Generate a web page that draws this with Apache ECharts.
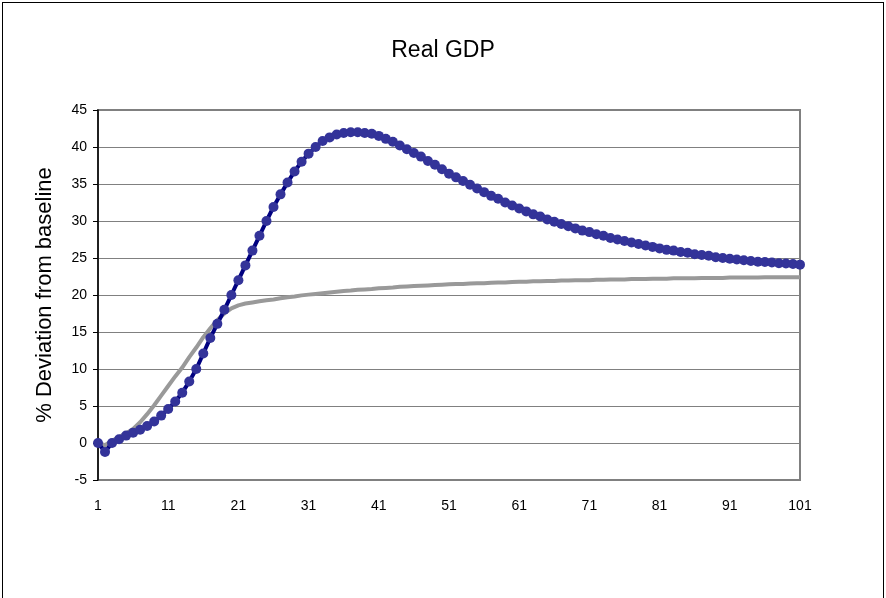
<!DOCTYPE html>
<html>
<head>
<meta charset="utf-8">
<script src="https://cdn.jsdelivr.net/npm/echarts@6/dist/echarts.min.js"></script>
<style>
html,body{margin:0;padding:0;background:#fff;}
#chart{position:absolute;left:0;top:0;width:886px;height:598px;}
#frame{position:absolute;left:2px;top:2px;width:880px;height:610px;border-left:1px solid #000;border-top:1px solid #000;border-right:1px solid #000;pointer-events:none;}
</style>
</head>
<body>
<div id="chart"></div>
<div id="frame"></div>
<script>
const titleText = "Real GDP";
const yAxisName = "% Deviation from baseline";
const categories = [];
for (let i = 1; i <= 101; i++) categories.push(String(i));

const scenarioValues = [
  0, -1.2, 0.0, 0.5, 1.0, 1.4, 1.8, 2.3, 2.9, 3.7,
  4.6, 5.6, 6.8, 8.3, 10.0, 12.1, 14.2, 16.1, 18.0, 20.0,
  22.0, 24.0, 26.0, 28.0, 30.0, 31.9, 33.6, 35.2, 36.7, 38.0,
  39.1, 40.0, 40.8, 41.3, 41.7, 41.9, 42.0, 42.0, 41.9, 41.8,
  41.5, 41.1, 40.7, 40.2, 39.7, 39.2, 38.7, 38.1, 37.6, 37.0,
  36.4, 35.9, 35.4, 34.9, 34.4, 33.9, 33.4, 33.0, 32.5, 32.1,
  31.7, 31.3, 30.9, 30.6, 30.2, 29.9, 29.6, 29.3, 29.0, 28.7,
  28.5, 28.2, 28.0, 27.7, 27.5, 27.3, 27.1, 26.9, 26.7, 26.5,
  26.3, 26.1, 26.0, 25.8, 25.7, 25.5, 25.4, 25.3, 25.1, 25.0,
  24.9, 24.8, 24.7, 24.6, 24.5, 24.45, 24.4, 24.3, 24.25, 24.2,
  24.1
];

const baselineValues = [
  0, -0.3, 0.3, 0.8, 1.3, 1.9, 2.8, 3.9, 5.1, 6.4,
  7.7, 9.0, 10.2, 11.6, 12.9, 14.3, 15.5, 16.6, 17.5, 18.2,
  18.6, 18.85, 19.0, 19.15, 19.3, 19.4, 19.55, 19.7, 19.8, 19.95,
  20.05, 20.15, 20.25, 20.35, 20.45, 20.55, 20.6, 20.7, 20.75, 20.8,
  20.9, 20.95, 21.0, 21.1, 21.15, 21.2, 21.25, 21.3, 21.35, 21.4,
  21.45, 21.5, 21.5, 21.55, 21.6, 21.6, 21.65, 21.7, 21.7, 21.75,
  21.8, 21.8, 21.85, 21.85, 21.9, 21.9, 21.95, 21.95, 22.0, 22.0,
  22.0, 22.05, 22.05, 22.1, 22.1, 22.1, 22.15, 22.15, 22.15, 22.2,
  22.2, 22.2, 22.25, 22.25, 22.25, 22.25, 22.3, 22.3, 22.3, 22.3,
  22.35, 22.35, 22.35, 22.35, 22.35, 22.4, 22.4, 22.4, 22.4, 22.4,
  22.4
];

const yMin = -5, yMax = 45, yStep = 5;

const chart = echarts.init(document.getElementById('chart'), null, {renderer: 'canvas'});
chart.setOption({
  animation: false,
  backgroundColor: '#ffffff',
  textStyle: {fontFamily: 'Liberation Sans, Arial, sans-serif'},
  title: {
    text: titleText,
    left: 'center',
    top: 34,
    textStyle: {fontSize: 23, fontWeight: 'normal', color: '#000', fontFamily: 'Liberation Sans, Arial, sans-serif'}
  },
  grid: {
    left: 98, right: 86, top: 110, bottom: 118,
    show: true, borderColor: '#808080', borderWidth: 2, backgroundColor: 'transparent'
  },
  xAxis: {
    type: 'category',
    data: categories,
    boundaryGap: false,
    axisLine: {show: false, onZero: false},
    axisTick: {show: false},
    splitLine: {show: false},
    axisLabel: {interval: 9, margin: 19, fontSize: 14, color: '#000', fontFamily: 'Liberation Sans, Arial, sans-serif'}
  },
  yAxis: {
    type: 'value',
    min: yMin, max: yMax, interval: yStep,
    name: yAxisName,
    nameLocation: 'middle',
    nameGap: 42,
    nameRotate: 90,
    nameTextStyle: {fontSize: 22, color: '#000', fontFamily: 'Liberation Sans, Arial, sans-serif'},
    axisLine: {show: true, lineStyle: {color: '#000', width: 1.5}},
    axisTick: {show: true, inside: false, length: 5, lineStyle: {color: '#000', width: 1}},
    axisLabel: {margin: 11, fontSize: 14, color: '#000', fontFamily: 'Liberation Sans, Arial, sans-serif'},
    splitLine: {show: true, lineStyle: {color: '#808080', width: 1}}
  },
  series: [
    {
      name: 'Baseline',
      type: 'line',
      data: baselineValues,
      showSymbol: false,
      symbol: 'none',
      lineStyle: {color: '#999999', width: 4},
      z: 2
    },
    {
      name: 'Scenario',
      type: 'line',
      data: scenarioValues,
      symbol: 'circle',
      symbolSize: 10,
      showAllSymbol: true,
      itemStyle: {color: '#333399', borderWidth: 0},
      lineStyle: {color: '#000080', width: 4},
      z: 3
    }
  ]
});
</script>
</body>
</html>
